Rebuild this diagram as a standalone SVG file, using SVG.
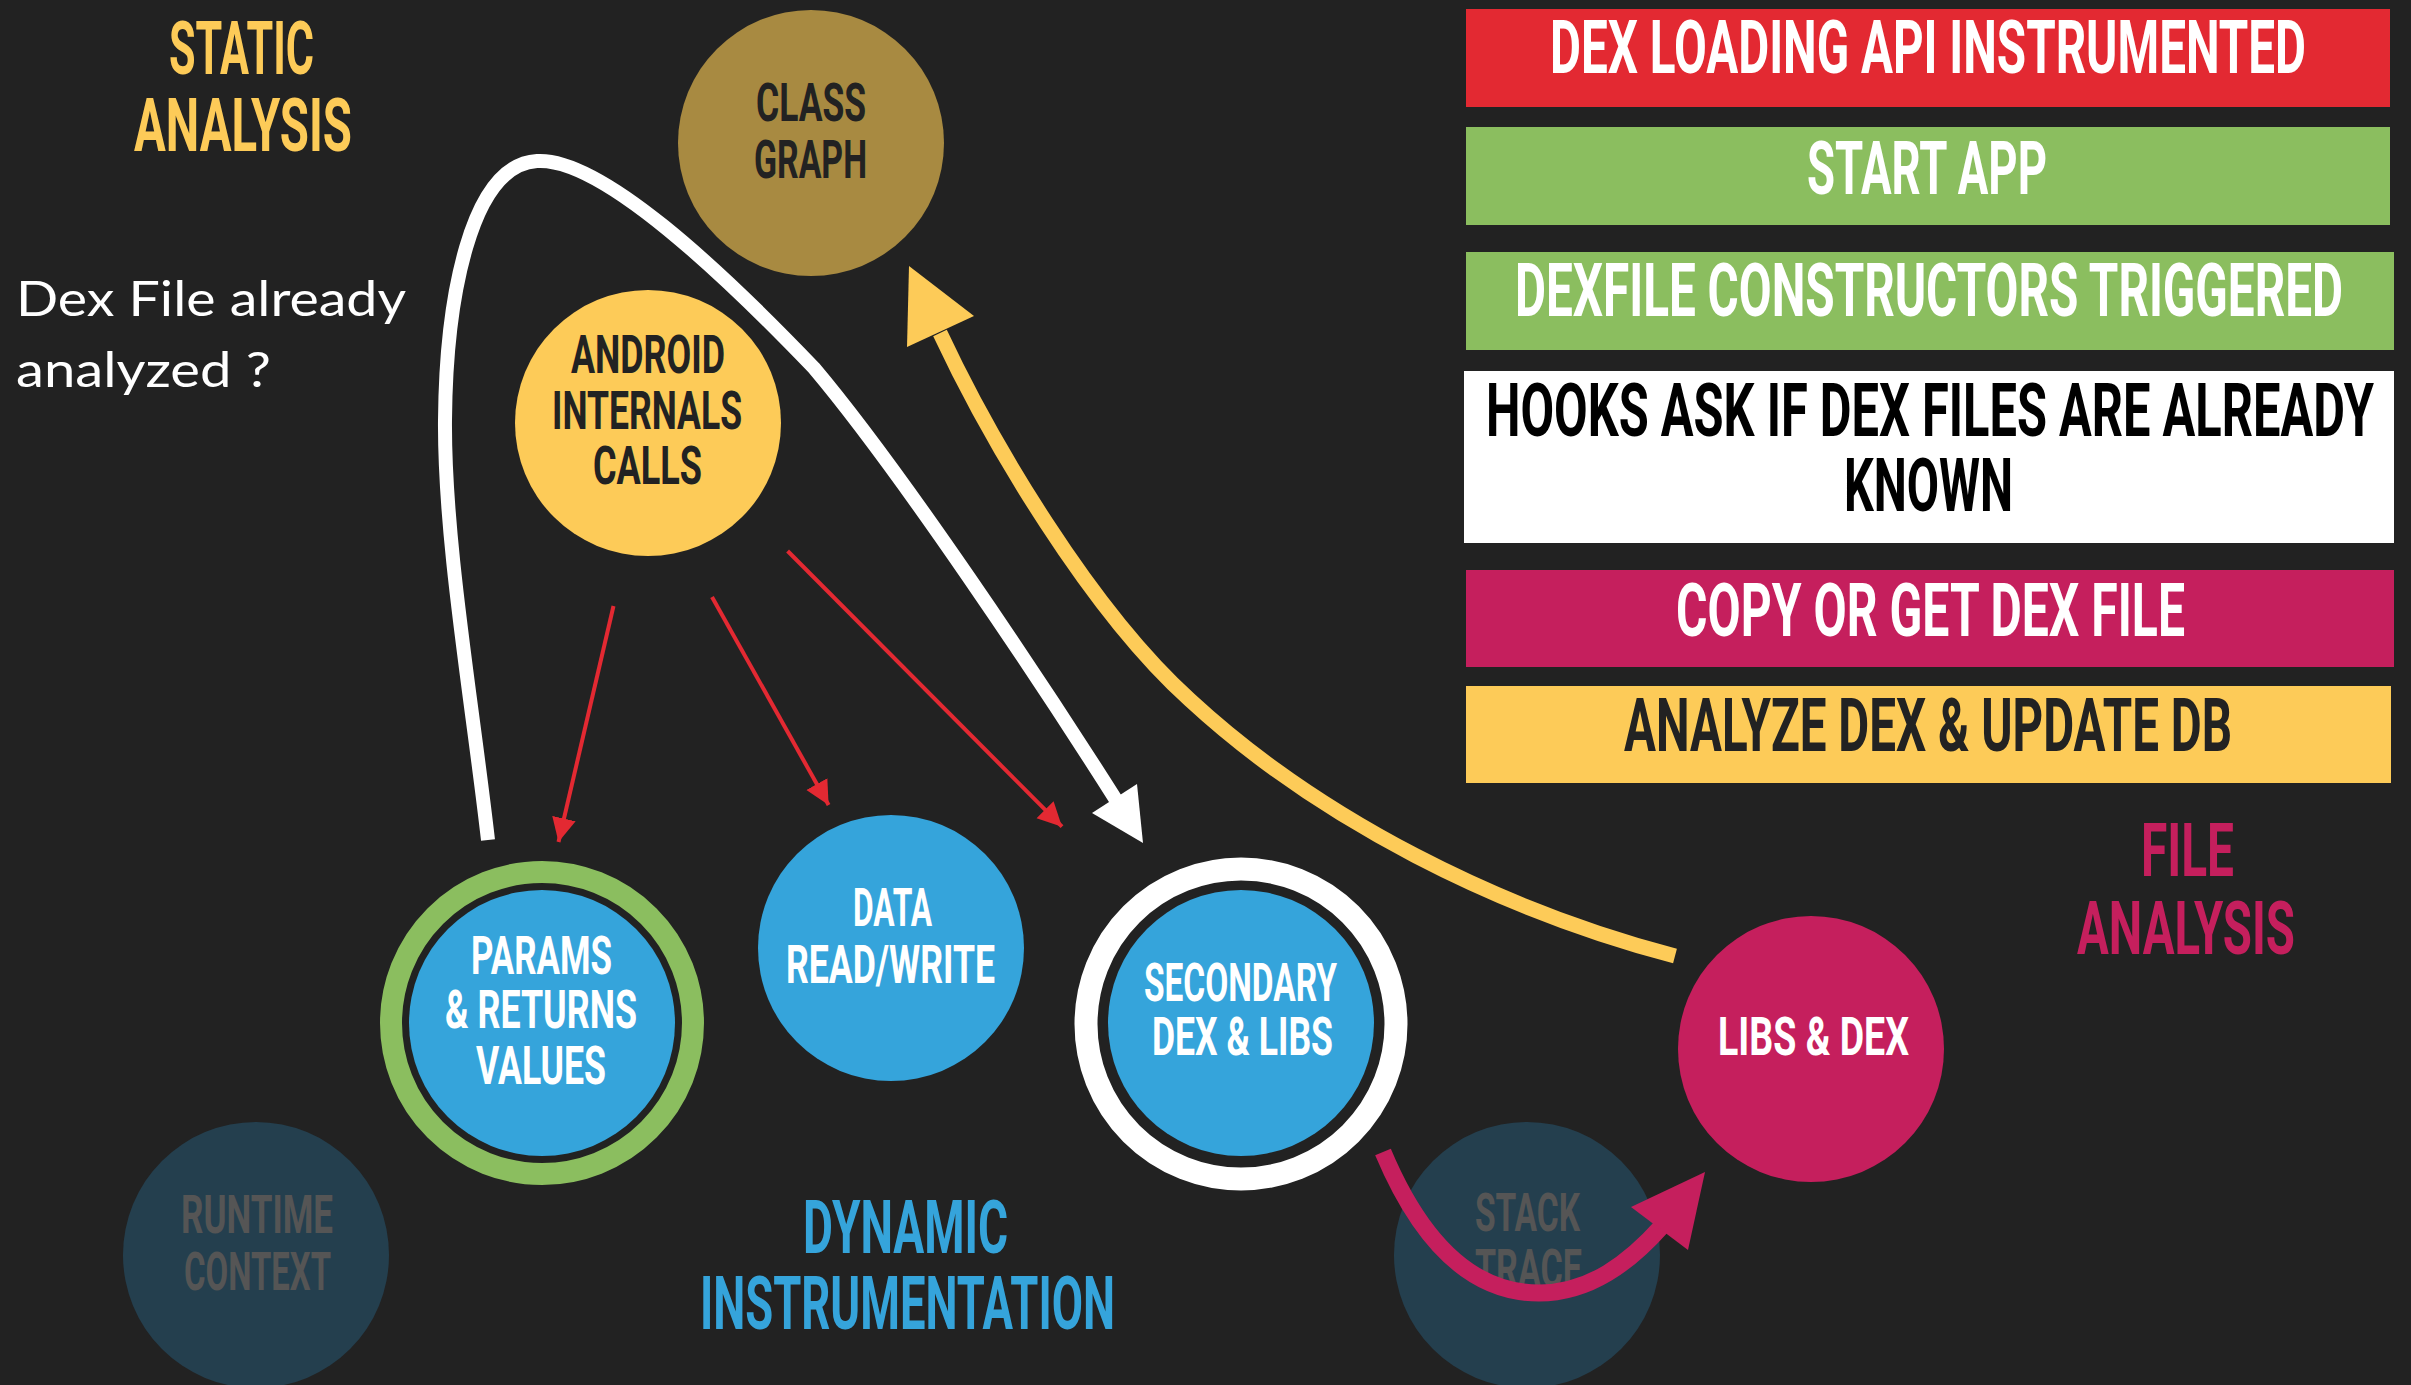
<svg xmlns="http://www.w3.org/2000/svg" width="2411" height="1385" viewBox="0 0 2411 1385">
<style>
.din{font-family:Roboto,"Liberation Sans",sans-serif;font-weight:700;}
.big{font-size:74px;}
.mid{font-size:53px;}
.w{fill:#ffffff;}
.k{fill:#000000;}
.d{fill:#222222;}
.g{fill:#555555;}
.body{font-family:Lato,"Noto Sans",sans-serif;font-size:48px;fill:#ffffff;}
</style>
<defs>
<marker id="redHead" markerUnits="userSpaceOnUse" markerWidth="26" markerHeight="26" refX="24" refY="12" orient="auto" viewBox="0 0 26 24">
<path d="M0,0 L24,12 L0,24 z" fill="#E32932"/>
</marker>
</defs>
<rect x="0" y="0" width="2411" height="1385" fill="#222222"/>

<!-- step bars -->
<g id="bar-dex-loading">
<rect x="1466" y="9" width="924" height="98" fill="#E32932"/>
<text class="din big w" x="1550" y="73" textLength="756" lengthAdjust="spacingAndGlyphs">DEX LOADING API INSTRUMENTED</text>
</g>
<g id="bar-start-app">
<rect x="1466" y="127" width="924" height="98" fill="#8BBE5F"/>
<text class="din big w" x="1807" y="194" textLength="240" lengthAdjust="spacingAndGlyphs">START APP</text>
</g>
<g id="bar-dexfile">
<rect x="1466" y="252" width="928" height="98" fill="#8BBE5F"/>
<text class="din big w" x="1515" y="316" textLength="828" lengthAdjust="spacingAndGlyphs">DEXFILE CONSTRUCTORS TRIGGERED</text>
</g>
<g id="bar-hooks">
<rect x="1464" y="371" width="930" height="172" fill="#ffffff"/>
<text class="din big k" x="1486" y="436" textLength="888" lengthAdjust="spacingAndGlyphs">HOOKS ASK IF DEX FILES ARE ALREADY</text>
<text class="din big k" x="1844" y="511" textLength="169" lengthAdjust="spacingAndGlyphs">KNOWN</text>
</g>
<g id="bar-copy">
<rect x="1466" y="570" width="928" height="97" fill="#C51F5D"/>
<text class="din big w" x="1676" y="636" textLength="509" lengthAdjust="spacingAndGlyphs">COPY OR GET DEX FILE</text>
</g>
<g id="bar-analyze">
<rect x="1466" y="686" width="925" height="97" fill="#FDCB58"/>
<text class="din big d" x="1624" y="751" textLength="608" lengthAdjust="spacingAndGlyphs">ANALYZE DEX &amp; UPDATE DB</text>
</g>

<!-- section labels -->
<g id="label-static">
<text class="din big" fill="#FDCB58" x="169" y="74" textLength="145" lengthAdjust="spacingAndGlyphs">STATIC</text>
<text class="din big" fill="#FDCB58" x="134" y="151" textLength="218" lengthAdjust="spacingAndGlyphs">ANALYSIS</text>
</g>
<g id="label-question">
<text class="body" x="16" y="316" textLength="390" lengthAdjust="spacingAndGlyphs">Dex File already</text>
<text class="body" x="16" y="387" textLength="255" lengthAdjust="spacingAndGlyphs">analyzed ?</text>
</g>
<g id="label-dynamic">
<text class="din big" fill="#35A4DB" x="803" y="1253" textLength="205" lengthAdjust="spacingAndGlyphs">DYNAMIC</text>
<text class="din big" fill="#35A4DB" x="700" y="1329" textLength="415" lengthAdjust="spacingAndGlyphs">INSTRUMENTATION</text>
</g>
<g id="label-file">
<text class="din big" fill="#C51F5D" x="2141" y="876" textLength="93" lengthAdjust="spacingAndGlyphs">FILE</text>
<text class="din big" fill="#C51F5D" x="2077" y="954" textLength="218" lengthAdjust="spacingAndGlyphs">ANALYSIS</text>
</g>

<!-- nodes -->
<g id="node-runtime">
<circle cx="256" cy="1255" r="133" fill="#243F4E"/>
<text class="din mid g" x="181" y="1233" textLength="152" lengthAdjust="spacingAndGlyphs">RUNTIME</text>
<text class="din mid g" x="184" y="1290" textLength="147" lengthAdjust="spacingAndGlyphs">CONTEXT</text>
</g>
<g id="node-stack">
<circle cx="1527" cy="1255" r="133" fill="#243F4E"/>
<text class="din mid g" x="1475" y="1231" textLength="105" lengthAdjust="spacingAndGlyphs">STACK</text>
<text class="din mid g" x="1475" y="1287" textLength="107" lengthAdjust="spacingAndGlyphs">TRACE</text>
</g>
<g id="node-class-graph">
<circle cx="811" cy="143" r="133" fill="#A88A41"/>
<text class="din mid d" x="756" y="121" textLength="110" lengthAdjust="spacingAndGlyphs">CLASS</text>
<text class="din mid d" x="754" y="178" textLength="113" lengthAdjust="spacingAndGlyphs">GRAPH</text>
</g>
<g id="node-android">
<circle cx="648" cy="423" r="133" fill="#FDCB58"/>
<text class="din mid d" x="571" y="373" textLength="154" lengthAdjust="spacingAndGlyphs">ANDROID</text>
<text class="din mid d" x="552" y="429" textLength="190" lengthAdjust="spacingAndGlyphs">INTERNALS</text>
<text class="din mid d" x="593" y="484" textLength="109" lengthAdjust="spacingAndGlyphs">CALLS</text>
</g>
<g id="node-params">
<circle cx="542" cy="1023" r="151" fill="none" stroke="#8BBE5F" stroke-width="22"/>
<circle cx="542" cy="1023" r="133" fill="#35A4DB"/>
<text class="din mid w" x="471" y="974" textLength="141" lengthAdjust="spacingAndGlyphs">PARAMS</text>
<text class="din mid w" x="445" y="1028" textLength="192" lengthAdjust="spacingAndGlyphs">&amp; RETURNS</text>
<text class="din mid w" x="476" y="1084" textLength="130" lengthAdjust="spacingAndGlyphs">VALUES</text>
</g>
<g id="node-data">
<circle cx="891" cy="948" r="133" fill="#35A4DB"/>
<text class="din mid w" x="853" y="926" textLength="79" lengthAdjust="spacingAndGlyphs">DATA</text>
<text class="din mid w" x="786" y="983" textLength="209" lengthAdjust="spacingAndGlyphs">READ/WRITE</text>
</g>
<g id="node-secondary">
<circle cx="1241" cy="1024" r="155" fill="none" stroke="#ffffff" stroke-width="23"/>
<circle cx="1241" cy="1023" r="133" fill="#35A4DB"/>
<text class="din mid w" x="1144" y="1001" textLength="193" lengthAdjust="spacingAndGlyphs">SECONDARY</text>
<text class="din mid w" x="1152" y="1055" textLength="181" lengthAdjust="spacingAndGlyphs">DEX &amp; LIBS</text>
</g>
<g id="node-libs-dex">
<circle cx="1811" cy="1049" r="133" fill="#C51F5D"/>
<text class="din mid w" x="1718" y="1055" textLength="191" lengthAdjust="spacingAndGlyphs">LIBS &amp; DEX</text>
</g>

<!-- connectors -->
<g id="connectors">
<line x1="613.5" y1="606" x2="558.5" y2="842" stroke="#E32932" stroke-width="4" marker-end="url(#redHead)"/>
<line x1="712" y1="597" x2="828.6" y2="805" stroke="#E32932" stroke-width="4" marker-end="url(#redHead)"/>
<line x1="787.6" y1="551" x2="1062" y2="826.7" stroke="#E32932" stroke-width="4" marker-end="url(#redHead)"/>

<path d="M488,840 C472,700 444,540 445,420 C446,300 470,165 537,161 C600,157 720,270 814,368 C900,470 1040,680 1116,800" fill="none" stroke="#ffffff" stroke-width="14"/>
<polygon points="1143,843 1092,813 1137,784" fill="#ffffff"/>

<path d="M1675,956 C1500,910 1320,820 1190,700 C1090,610 990,440 940,333" fill="none" stroke="#FDCB58" stroke-width="15"/>
<polygon points="909,266 974,316 907,347" fill="#FDCB58"/>

<path d="M1383,1152 C1420,1240 1470,1293 1539,1293 C1590,1293 1630,1262 1662,1226" fill="none" stroke="#C51F5D" stroke-width="17"/>
<polygon points="1705,1172 1631,1207 1688,1250" fill="#C51F5D"/>
</g>
</svg>
